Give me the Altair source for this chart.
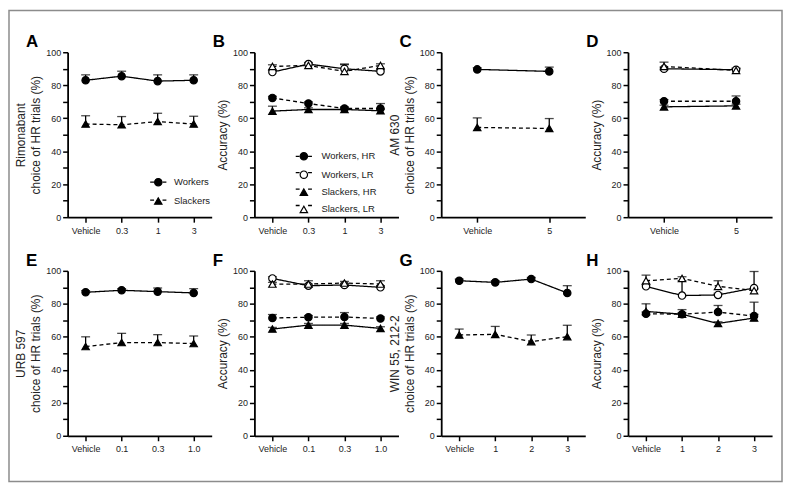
import altair as alt
import pandas as pd

FONT = "Liberation Sans"

# ---------------- data ----------------
A_doses = ["Vehicle", "0.3", "1", "3"]
A_workers = [83.0, 85.5, 82.5, 83.0]
A_workers_sem = [3.3, 3.0, 3.8, 3.3]
A_slackers = [56.5, 56.0, 58.0, 56.5]
A_slackers_sem = [5.0, 5.0, 5.0, 4.7]

B_doses = ["Vehicle", "0.3", "1", "3"]
B_workers_hr = [72.3, 68.9, 65.9, 65.9]
B_workers_hr_sem = [1.0, 1.0, 1.0, 3.0]
B_workers_lr = [88.0, 92.8, 90.0, 88.4]
B_workers_lr_sem = [1.0, 1.0, 2.5, 1.0]
B_slackers_hr = [64.3, 65.3, 65.3, 64.5]
B_slackers_hr_sem = [3.0, 1.0, 1.0, 1.0]
B_slackers_lr = [91.4, 92.0, 88.4, 92.0]
B_slackers_lr_sem = [1.0, 1.0, 4.5, 1.0]

C_doses = ["Vehicle", "5"]
C_workers = [89.6, 88.4]
C_workers_sem = [1.0, 2.6]
C_slackers = [54.4, 53.8]
C_slackers_sem = [5.8, 6.0]

D_doses = ["Vehicle", "5"]
D_workers_hr = [70.3, 70.3]
D_workers_hr_sem = [1.0, 3.2]
D_workers_lr = [90.0, 89.4]
D_workers_lr_sem = [1.0, 1.0]
D_slackers_hr = [66.9, 67.5]
D_slackers_hr_sem = [1.0, 1.0]
D_slackers_lr = [91.4, 89.0]
D_slackers_lr_sem = [2.6, 1.0]

E_doses = ["Vehicle", "0.1", "0.3", "1.0"]
E_workers = [87.0, 88.2, 87.4, 86.6]
E_workers_sem = [1.0, 1.0, 2.2, 2.6]
E_slackers = [54.1, 56.5, 56.5, 55.9]
E_slackers_sem = [5.9, 5.6, 4.8, 4.6]

F_doses = ["Vehicle", "0.1", "0.3", "1.0"]
F_workers_hr = [71.4, 71.9, 72.0, 71.1]
F_workers_hr_sem = [2.1, 1.0, 2.7, 1.0]
F_workers_lr = [95.4, 91.0, 91.4, 90.0]
F_workers_lr_sem = [1.0, 1.0, 1.0, 1.0]
F_slackers_hr = [64.7, 67.1, 67.1, 65.1]
F_slackers_hr_sem = [1.0, 1.0, 1.0, 1.0]
F_slackers_lr = [92.0, 92.0, 92.6, 92.0]
F_slackers_lr_sem = [1.0, 2.0, 1.0, 2.0]

G_doses = ["Vehicle", "1", "2", "3"]
G_workers = [94.0, 93.0, 95.0, 86.6]
G_workers_sem = [1.0, 1.0, 1.0, 4.4]
G_slackers = [61.1, 61.5, 57.1, 60.1]
G_slackers_sem = [3.6, 4.8, 4.0, 6.9]

H_doses = ["Vehicle", "1", "2", "3"]
H_workers_hr = [74.0, 73.7, 75.0, 72.6]
H_workers_hr_sem = [1.0, 1.0, 4.0, 1.0]
H_workers_lr = [90.6, 85.0, 85.4, 89.6]
H_workers_lr_sem = [1.0, 9.0, 1.0, 10.0]
H_slackers_hr = [75.4, 73.7, 68.1, 71.4]
H_slackers_hr_sem = [4.6, 2.8, 1.0, 9.6]
H_slackers_lr = [94.0, 95.4, 90.6, 88.0]
H_slackers_lr_sem = [3.4, 1.0, 3.4, 1.0]

TWO_NAMES = ["Workers", "Slackers"]
TWO_SHAPES = ["circle", "triangle-up"]
TWO_FILLS = ["black", "black"]
TWO_DASHES = [[1, 0], [4, 3]]

FOUR_NAMES = ["Workers, HR", "Workers, LR", "Slackers, HR", "Slackers, LR"]
FOUR_SHAPES = ["circle", "circle", "triangle-up", "triangle-up"]
FOUR_FILLS = ["black", "white", "black", "white"]
FOUR_DASHES = [[4, 3], [1, 0], [1, 0], [4, 3]]

TITLE_TWO = {"A": ["Rimonabant", "choice of HR trials (%)"],
             "C": ["AM 630", "choice of HR trials (%)"],
             "E": ["URB 597", "choice of HR trials (%)"],
             "G": ["WIN 55, 212-2", "choice of HR trials (%)"]}


def make_df(doses, series):
    rows = []
    for name, vals, sems in series:
        for d, v, s in zip(doses, vals, sems):
            rows.append({"dose": d, "series": name, "marker": name,
                         "value": v, "top": v + s})
    return pd.DataFrame(rows)


def panel(df, doses, names, shapes, fills, dashes, letter, ytitle,
          legend=None, frame=False, width=145, height=166):
    xscale = alt.Scale(type="point", padding=0.5, domain=doses)
    xaxis = alt.Axis(title=None, labelAngle=0, labelPadding=4)
    yscale = alt.Scale(domain=[0, 100], nice=False)
    yaxis = alt.Axis(title=ytitle, values=list(range(0, 101, 10)),
                     labelExpr="datum.value % 20 === 0 ? datum.label : ''",
                     titlePadding=3, titleLineHeight=15)
    x = alt.X("dose:N", sort=doses, scale=xscale, axis=xaxis)

    base = alt.Chart(df)
    if legend:
        lx, ly, lo, rp = legend
        # line-segment legend (empty labels) overlaid on the marker legend
        dash_leg = alt.Legend(orient="none", legendX=lx, legendY=ly,
                              title=None,
                              symbolType="M-2.2,0H-1.15M1.15,0H2.2", symbolSize=55,
                              symbolStrokeWidth=1.3, symbolStrokeColor="black",
                              labelExpr="''", labelFontSize=9.5,
                              rowPadding=rp, padding=0)
        shape_leg = alt.Legend(orient="none", legendX=lx, legendY=ly, title=None,
                               symbolSize=55, symbolStrokeWidth=1.2,
                               symbolOpacity=1,
                               labelFontSize=9.5, labelFont=FONT, labelColor="#222",
                               labelOffset=lo, rowPadding=rp, padding=0)
    else:
        dash_leg = None
        shape_leg = None

    # dash scale: data-driven sorted domain, so its legend stays separate from
    # the (merged) shape+fill+stroke legend
    lines = base.mark_line(color="black", strokeWidth=1.3).encode(
        x=x,
        y=alt.Y("value:Q", scale=yscale, axis=yaxis),
        strokeDash=alt.StrokeDash("series:N", sort=names,
                                  scale=alt.Scale(range=dashes),
                                  legend=dash_leg),
    )
    rules = base.mark_rule(color="black", strokeWidth=1.3).encode(
        x=x,
        y=alt.Y("value:Q", scale=yscale, axis=yaxis),
        y2="top:Q",
    )
    caps = base.mark_tick(color="black", thickness=1.3, size=9,
                          orient="horizontal").encode(
        x=x,
        y=alt.Y("top:Q", scale=yscale, axis=yaxis),
    )
    pts = base.mark_point(filled=False, size=55, strokeWidth=1.2,
                          opacity=1).encode(
        x=x,
        y=alt.Y("value:Q", scale=yscale, axis=yaxis),
        shape=alt.Shape("marker:N", scale=alt.Scale(domain=names, range=shapes),
                        legend=shape_leg),
        fill=alt.Fill("marker:N", scale=alt.Scale(domain=names, range=fills),
                      legend=shape_leg),
        stroke=alt.Stroke("marker:N",
                          scale=alt.Scale(domain=names,
                                          range=["black"] * len(names)),
                          legend=shape_leg),
    )
    txt = alt.Chart(pd.DataFrame({"t": [letter]})).mark_text(
        align="left", baseline="alphabetic", fontSize=17, fontWeight="bold",
        font=FONT, color="black").encode(
        x=alt.value(-42), y=alt.value(-5), text="t:N")

    layers = [lines, rules, caps, pts, txt]
    if frame:
        rect = alt.Chart(pd.DataFrame({"k": [0]})).mark_rect(
            fill="transparent", stroke="#8c8c8c", strokeWidth=1.5).encode(
            x=alt.value(-59), x2=alt.value(719),
            y=alt.value(-42), y2=alt.value(432))
        layers = [rect] + layers
    return alt.layer(*layers).properties(width=width, height=height)


dfA = make_df(A_doses, [("Workers", A_workers, A_workers_sem),
                        ("Slackers", A_slackers, A_slackers_sem)])
dfB = make_df(B_doses, [("Workers, HR", B_workers_hr, B_workers_hr_sem),
                        ("Workers, LR", B_workers_lr, B_workers_lr_sem),
                        ("Slackers, HR", B_slackers_hr, B_slackers_hr_sem),
                        ("Slackers, LR", B_slackers_lr, B_slackers_lr_sem)])
dfC = make_df(C_doses, [("Workers", C_workers, C_workers_sem),
                        ("Slackers", C_slackers, C_slackers_sem)])
dfD = make_df(D_doses, [("Workers, HR", D_workers_hr, D_workers_hr_sem),
                        ("Workers, LR", D_workers_lr, D_workers_lr_sem),
                        ("Slackers, HR", D_slackers_hr, D_slackers_hr_sem),
                        ("Slackers, LR", D_slackers_lr, D_slackers_lr_sem)])
dfE = make_df(E_doses, [("Workers", E_workers, E_workers_sem),
                        ("Slackers", E_slackers, E_slackers_sem)])
dfF = make_df(F_doses, [("Workers, HR", F_workers_hr, F_workers_hr_sem),
                        ("Workers, LR", F_workers_lr, F_workers_lr_sem),
                        ("Slackers, HR", F_slackers_hr, F_slackers_hr_sem),
                        ("Slackers, LR", F_slackers_lr, F_slackers_lr_sem)])
dfG = make_df(G_doses, [("Workers", G_workers, G_workers_sem),
                        ("Slackers", G_slackers, G_slackers_sem)])
dfH = make_df(H_doses, [("Workers, HR", H_workers_hr, H_workers_hr_sem),
                        ("Workers, LR", H_workers_lr, H_workers_lr_sem),
                        ("Slackers, HR", H_slackers_hr, H_slackers_hr_sem),
                        ("Slackers, LR", H_slackers_lr, H_slackers_lr_sem)])

pA = panel(dfA, A_doses, TWO_NAMES, TWO_SHAPES, TWO_FILLS, TWO_DASHES, "A",
           TITLE_TWO["A"], legend=(86.5, 126, 11, 7), frame=True)
pB = panel(dfB, B_doses, FOUR_NAMES, FOUR_SHAPES, FOUR_FILLS, FOUR_DASHES, "B",
           "Accuracy (%)", legend=(45, 100, 13, 5.5))
pC = panel(dfC, C_doses, TWO_NAMES, TWO_SHAPES, TWO_FILLS, TWO_DASHES, "C",
           TITLE_TWO["C"])
pD = panel(dfD, D_doses, FOUR_NAMES, FOUR_SHAPES, FOUR_FILLS, FOUR_DASHES, "D",
           "Accuracy (%)")
pE = panel(dfE, E_doses, TWO_NAMES, TWO_SHAPES, TWO_FILLS, TWO_DASHES, "E",
           TITLE_TWO["E"])
pF = panel(dfF, F_doses, FOUR_NAMES, FOUR_SHAPES, FOUR_FILLS, FOUR_DASHES, "F",
           "Accuracy (%)")
pG = panel(dfG, G_doses, TWO_NAMES, TWO_SHAPES, TWO_FILLS, TWO_DASHES, "G",
           TITLE_TWO["G"])
pH = panel(dfH, H_doses, FOUR_NAMES, FOUR_SHAPES, FOUR_FILLS, FOUR_DASHES, "H",
           "Accuracy (%)")

chart = alt.concat(pA, pB, pC, pD, pE, pF, pG, pH, columns=4,
                   spacing={"row": 54, "column": 43}, bounds="flush",
                   padding=0).resolve_scale(
    shape="independent", fill="independent", stroke="independent",
    strokeDash="independent", x="independent", y="independent"
).resolve_legend(
    shape="independent", fill="independent", stroke="independent",
    strokeDash="independent"
).configure(
    font=FONT, background="white"
).configure_view(
    stroke=None
).configure_axis(
    domainColor="black", domainWidth=1.8, tickColor="black", tickWidth=1.5,
    tickSize=5, labelFontSize=9, labelColor="#222", labelFont=FONT,
    titleFont=FONT, titleFontSize=12, titleFontWeight="normal",
    titleColor="#222", grid=False
)

chart.save("out.html", embed_options={"renderer": "svg", "actions": False})
